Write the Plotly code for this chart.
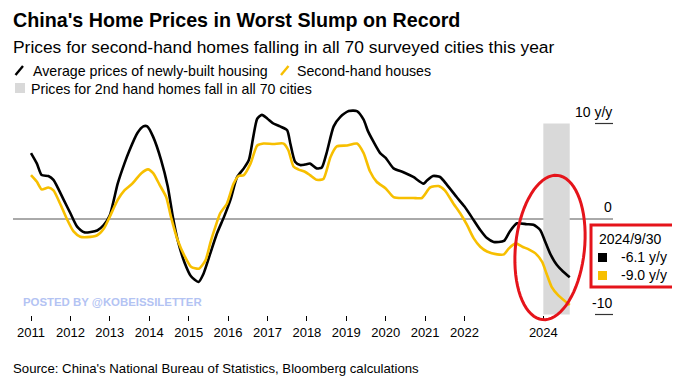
import math
import plotly.graph_objects as go

# ---------------- data (decimal years, % y/y) ----------------
new_x = [2011.0, 2011.15, 2011.27, 2011.44, 2011.57, 2011.83, 2012.0, 2012.17, 2012.35, 2012.68,
         2012.85, 2013.0, 2013.2, 2013.37, 2013.5, 2013.7, 2013.85, 2013.95, 2014.1, 2014.3,
         2014.47, 2014.6, 2014.72, 2014.9, 2015.06, 2015.25, 2015.38, 2015.55, 2015.72, 2015.9,
         2016.06, 2016.23, 2016.4, 2016.53, 2016.64, 2016.74, 2016.86, 2017.0, 2017.15, 2017.32,
         2017.5, 2017.58, 2017.7, 2017.83, 2017.95, 2018.08, 2018.25, 2018.38, 2018.5, 2018.68,
         2018.85, 2019.06, 2019.27, 2019.44, 2019.55, 2019.69, 2019.86, 2020.0, 2020.2, 2020.45,
         2020.7, 2020.96, 2021.04, 2021.2, 2021.38, 2021.55, 2021.8, 2022.0, 2022.23, 2022.4,
         2022.57, 2022.74, 2023.0, 2023.15, 2023.33, 2023.58, 2023.75, 2023.92, 2024.04, 2024.17,
         2024.34, 2024.5, 2024.67]
new_y = [6.9, 5.8, 4.6, 4.5, 4.1, 2.0, 0.6, -0.8, -1.4, -1.2,
         -0.6, 0.4, 3.7, 5.8, 7.2, 9.0, 9.7, 9.7, 8.6, 6.2,
         3.4, 0.2, -2.2, -4.6, -6.0, -6.6, -5.7, -3.6, -1.5, 0.25,
         2.0, 4.4, 5.3, 6.2, 8.6, 10.5, 10.9, 10.5, 10.0, 9.7,
         9.3, 7.9, 6.0, 5.65, 5.7, 5.8, 5.3, 5.4, 6.9, 9.7,
         10.7, 11.3, 11.3, 10.4, 9.2, 8.1, 6.9, 6.4, 5.3, 4.9,
         4.4, 3.7, 4.0, 4.5, 4.4, 3.6, 2.3, 1.3, -0.1, -1.15,
         -2.0, -2.4, -2.3, -1.3, -0.45, -0.55, -0.6, -1.15, -2.3, -3.6,
         -4.8, -5.5, -6.1]

used_x = [2011.0, 2011.15, 2011.27, 2011.44, 2011.57, 2011.74, 2011.9, 2012.08, 2012.25, 2012.42,
          2012.68, 2012.85, 2013.0, 2013.2, 2013.37, 2013.57, 2013.8, 2013.97, 2014.1, 2014.26,
          2014.43, 2014.55, 2014.72, 2014.9, 2015.06, 2015.26, 2015.43, 2015.55, 2015.68, 2015.8,
          2015.97, 2016.14, 2016.27, 2016.4, 2016.57, 2016.74, 2016.9, 2017.15, 2017.41, 2017.53,
          2017.66, 2017.78, 2017.95, 2018.08, 2018.25, 2018.42, 2018.6, 2018.76, 2019.02, 2019.27,
          2019.44, 2019.6, 2019.77, 2020.0, 2020.2, 2020.45, 2020.7, 2020.92, 2021.13, 2021.34,
          2021.5, 2021.72, 2021.89, 2022.06, 2022.23, 2022.4, 2022.57, 2022.83, 2023.0, 2023.12,
          2023.3, 2023.47, 2023.64, 2023.8, 2023.97, 2024.08, 2024.21, 2024.38, 2024.67]
used_y = [4.6, 3.9, 3.1, 3.3, 3.0, 1.6, 0.1, -1.3, -1.85, -1.9,
          -1.7, -1.0, 0.25, 2.0, 3.0, 3.7, 4.8, 5.2, 4.8, 3.6,
          2.3, 0.25, -2.2, -3.9, -5.0, -5.2, -4.3, -2.5, -0.8, 0.6,
          1.6, 3.7, 4.5, 4.6, 5.8, 7.7, 7.9, 7.85, 7.9, 7.2,
          5.5, 5.2, 4.95, 4.6, 4.1, 4.2, 6.5, 7.6, 7.7, 7.9,
          6.9, 5.0, 3.9, 3.2, 2.3, 2.2, 2.2, 2.2, 3.3, 3.45,
          3.0, 1.6, 0.6, -0.6, -2.0, -2.9, -3.4, -3.7, -3.7, -3.1,
          -2.55, -2.9, -3.2, -3.6, -4.5, -5.7, -7.1, -8.0, -9.0]

year_ticks = [2011, 2012, 2013, 2014, 2015, 2016, 2017, 2018, 2019, 2020, 2021, 2022, 2024]
year_labels = [str(y) for y in year_ticks]
y_ticks = [10, 0, -10]
y_labels = ["10 y/y", "0", "-10"]
band_start, band_end = 2024.0, 2024.67
last_date = "2024/9/30"
last_new, last_used = -6.1, -9.0

# ---------------- layout helpers ----------------
# page body has an 8px margin, so the figure is offset by 8px and sized to fit the window
OFF = 8
W, H = 680 - OFF, 390 - OFF
BLACK = "#000000"
YELLOW = "#F7BF00"
RED = "#E5141B"
FONT = "Liberation Sans, Arial, sans-serif"

def px(xp):
    return (xp - OFF) / W

def py(yp):
    return 1 - (yp - OFF) / H

PPY = 39.41          # pixels per year
X2011 = 31 - OFF     # pixel of 2011 in figure coords
Y0 = 219 - OFF       # pixel of zero line in figure coords
PPU = 9.55           # pixels per y unit
x_range = [2011 - X2011 / PPY, 2011 + (W - X2011) / PPY]
y_range = [-(H - Y0) / PPU, Y0 / PPU]

fig = go.Figure()

fig.add_trace(go.Scatter(x=new_x, y=new_y, mode="lines",
                         line=dict(color=BLACK, width=2.6, shape="spline", smoothing=0.6),
                         hoverinfo="skip", showlegend=False))
fig.add_trace(go.Scatter(x=used_x, y=used_y, mode="lines",
                         line=dict(color=YELLOW, width=2.6, shape="spline", smoothing=0.6),
                         hoverinfo="skip", showlegend=False))

shapes = []
# gray band
shapes.append(dict(type="rect", xref="x", yref="y", x0=band_start, x1=band_end, y0=min(y_ticks), y1=max(y_ticks),
                   fillcolor="#D9D9D9", line=dict(width=0), layer="below"))
# zero line
shapes.append(dict(type="line", xref="paper", yref="y", x0=px(13), x1=px(613), y0=0, y1=0,
                   line=dict(color="#555555", width=1), layer="below"))
# right axis tick marks for +-10
for v in (10, -10):
    shapes.append(dict(type="line", xref="paper", yref="y", x0=px(595), x1=px(613), y0=v, y1=v,
                       line=dict(color="#333333", width=1.2)))

# legend icons
shapes.append(dict(type="line", xref="paper", yref="paper", x0=px(15.5), y0=py(75), x1=px(23), y1=py(66),
                   line=dict(color=BLACK, width=2.4)))
shapes.append(dict(type="line", xref="paper", yref="paper", x0=px(281), y0=py(75), x1=px(288.5), y1=py(66),
                   line=dict(color=YELLOW, width=2.4)))
shapes.append(dict(type="rect", xref="paper", yref="paper", x0=px(15), y0=py(93), x1=px(25), y1=py(83),
                   fillcolor="#D9D9D9", line=dict(width=0)))

# red ellipse (slightly tilted)
cx, cy, rx, ry, ang = 550, 247.5, 34.5, 72.5, math.radians(6)
pts = []
for i in range(73):
    t = 2 * math.pi * i / 72
    ex, ey = rx * math.cos(t), ry * math.sin(t)
    X = cx + ex * math.cos(ang) - ey * math.sin(ang)
    Y = cy + ex * math.sin(ang) + ey * math.cos(ang)
    pts.append((px(X), py(Y)))
path = "M " + " L ".join(f"{a:.5f},{b:.5f}" for a, b in pts) + " Z"
shapes.append(dict(type="path", xref="paper", yref="paper", path=path, line=dict(color=RED, width=3)))

# red box
shapes.append(dict(type="rect", xref="paper", yref="paper", x0=px(591), x1=px(677), y0=py(287), y1=py(225),
                   fillcolor="white", line=dict(color=RED, width=3)))
shapes.append(dict(type="rect", xref="paper", yref="paper", x0=px(598), x1=px(607), y0=py(262), y1=py(253),
                   fillcolor=BLACK, line=dict(width=0)))
shapes.append(dict(type="rect", xref="paper", yref="paper", x0=px(598), x1=px(607), y0=py(280), y1=py(271),
                   fillcolor=YELLOW, line=dict(width=0)))

ann = []
def text(x, y, s, size, color="#000000", bold=False, xanchor="left"):
    ann.append(dict(xref="paper", yref="paper", x=px(x), y=py(y), text=(f"<b>{s}</b>" if bold else s),
                    showarrow=False, xanchor=xanchor, yanchor="middle",
                    font=dict(family=FONT, size=size, color=color)))

text(11, 20, "China's Home Prices in Worst Slump on Record", 19.7, bold=True)
text(11, 47, "Prices for second-hand homes falling in all 70 surveyed cities this year", 17.4)
text(31, 71, "Average prices of newly-built housing", 14.2)
text(295, 71, "Second-hand houses", 14.2)
text(29, 88.5, "Prices for 2nd hand homes fall in all 70 cities", 14.2)
text(11, 368, "Source: China's National Bureau of Statistics, Bloomberg calculations", 13.2)
text(21, 302, "POSTED BY @KOBEISSILETTER", 11.4, color="#B3C3F3", bold=True)
text(597, 239, last_date, 14)
text(669, 257, f"{last_new:.1f} y/y", 14, xanchor="right")
text(669, 275, f"{last_used:.1f} y/y", 14, xanchor="right")

# right-side value labels above tick lines
for v, lab in zip(y_ticks, y_labels):
    ann.append(dict(xref="paper", yref="y", x=px(614), y=v, text=lab, showarrow=False,
                    xanchor="right", yanchor="bottom", yshift=2,
                    font=dict(family=FONT, size=14, color="#000000")))

fig.update_layout(
    width=W, height=H, margin=dict(l=0, r=0, t=0, b=0),
    paper_bgcolor="white", plot_bgcolor="white",
    shapes=shapes, annotations=ann, showlegend=False,
    xaxis=dict(range=x_range, tickvals=year_ticks, ticktext=year_labels, showgrid=False, zeroline=False,
               showline=False, ticks="outside", ticklen=5, tickwidth=1, tickcolor="#000000",
               anchor="free", position=py(315), tickfont=dict(family=FONT, size=13, color="#000000"),
               fixedrange=True),
    yaxis=dict(range=y_range, visible=False, fixedrange=True),
)

fig.write_html("out.html")
